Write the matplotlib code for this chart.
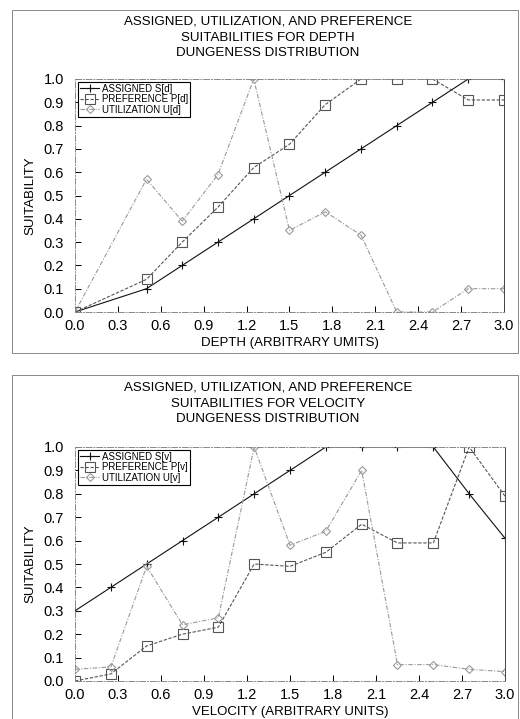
import matplotlib
matplotlib.use("Agg")
import matplotlib.pyplot as plt
from matplotlib.patches import Rectangle

plt.rcParams['font.family'] = ['Liberation Sans', 'DejaVu Sans']

depth_x = [0.0, 0.5, 0.75, 1.0, 1.25, 1.5, 1.75, 2.0, 2.25, 2.5, 2.75, 3.0]
assigned_d = [0.0, 0.1, 0.2, 0.3, 0.4, 0.5, 0.6, 0.7, 0.8, 0.9, 1.0, 1.0]
preference_d = [0.0, 0.14, 0.30, 0.45, 0.62, 0.72, 0.89, 1.0, 1.0, 1.0, 0.91, 0.91]
utilization_d = [0.0, 0.57, 0.39, 0.59, 1.0, 0.35, 0.43, 0.33, 0.0, 0.0, 0.10, 0.10]

vel_x = [0.0, 0.25, 0.5, 0.75, 1.0, 1.25, 1.5, 1.75, 2.0, 2.25, 2.5, 2.75, 3.0]
assigned_v = [0.3, 0.4, 0.5, 0.6, 0.7, 0.8, 0.9, 1.0, 1.0, 1.0, 1.0, 0.8, 0.61]
preference_v = [0.0, 0.03, 0.15, 0.20, 0.23, 0.50, 0.49, 0.55, 0.67, 0.59, 0.59, 1.0, 0.79]
utilization_v = [0.05, 0.06, 0.49, 0.24, 0.27, 1.0, 0.58, 0.64, 0.90, 0.07, 0.07, 0.05, 0.04]

x_ticks = [0.0, 0.3, 0.6, 0.9, 1.2, 1.5, 1.8, 2.1, 2.4, 2.7, 3.0]
y_ticks = [0.0, 0.1, 0.2, 0.3, 0.4, 0.5, 0.6, 0.7, 0.8, 0.9, 1.0]

W, H = 520, 719
fig = plt.figure(figsize=(W / 100, H / 100), dpi=100)


def px_axes(x0, y0, x1, y1):
    return fig.add_axes([x0 / W, (H - y1) / H, (x1 - x0) / W, (y1 - y0) / H])


def frame(x0, y0, x1, y1):
    fig.patches.append(Rectangle((x0 / W, (H - y1) / H), (x1 - x0) / W, (y1 - y0) / H,
                                 transform=fig.transFigure, fill=False,
                                 edgecolor='#888888', linewidth=0.7))


def panel(ax, x, s, p, u, sfx, xlabel):
    ax.plot(x, s, color='#111111', lw=0.8, marker='+', ms=6, mew=0.8,
            label=f'ASSIGNED S[{sfx}]')
    ax.plot(x, p, color='#555555', lw=0.8, ls=(0, (3, 1.5)), marker='s', ms=7,
            mfc='none', mec='#555555', mew=0.8, label=f'PREFERENCE P[{sfx}]')
    ax.plot(x, u, color='#999999', lw=0.8, ls=(0, (4, 1.5, 1, 1.5)), marker='D', ms=4,
            mfc='none', mec='#999999', mew=0.8, label=f'UTILIZATION U[{sfx}]')
    ax.set_xlim(0, 3.0)
    ax.set_ylim(0, 1.0)
    ax.set_xticks(x_ticks)
    ax.set_xticklabels([f'{t:.1f}' for t in x_ticks])
    ax.set_yticks(y_ticks)
    ax.set_yticklabels([f'{t:.1f}' for t in y_ticks])
    ax.tick_params(direction='in', length=4, width=0.7, labelsize=10.5)
    ax.tick_params(axis='y', pad=8)
    ax.tick_params(axis='x', pad=5)
    ax.set_xlabel(xlabel, fontsize=9.5, labelpad=3)
    ax.set_ylabel('SUITABILITY', fontsize=9.5, labelpad=5)
    for side in ['top', 'bottom', 'left']:
        ax.spines[side].set_color('#888888')
        ax.spines[side].set_linestyle((0, (6, 2, 1, 2)))
        ax.spines[side].set_linewidth(0.7)
    ax.spines['right'].set_color('#444444')
    ax.spines['right'].set_linewidth(0.7)
    leg = ax.legend(loc='upper left', fontsize=7, frameon=True, fancybox=False,
                    edgecolor='black', framealpha=1, borderpad=0.2, labelspacing=0.05,
                    handlelength=2.0, handletextpad=0.3, borderaxespad=0.3)
    leg.get_frame().set_linewidth(0.8)


# top panel
frame(12, 10, 518, 353)
ax1 = px_axes(75, 79, 504, 312)
panel(ax1, depth_x, assigned_d, preference_d, utilization_d, 'd',
      'DEPTH (ARBITRARY UMITS)')
fig.text(268 / W, 1 - 16 / H,
         'ASSIGNED, UTILIZATION, AND PREFERENCE\nSUITABILITIES FOR DEPTH\nDUNGENESS DISTRIBUTION',
         ha='center', va='top', fontsize=9.6, linespacing=1.4)

# bottom panel
frame(12, 375, 518, 730)
ax2 = px_axes(75, 447, 505, 681)
panel(ax2, vel_x, assigned_v, preference_v, utilization_v, 'v',
      'VELOCITY (ARBITRARY UNITS)')
fig.text(268 / W, 1 - 382 / H,
         'ASSIGNED, UTILIZATION, AND PREFERENCE\nSUITABILITIES FOR VELOCITY\nDUNGENESS DISTRIBUTION',
         ha='center', va='top', fontsize=9.6, linespacing=1.4)

fig.savefig('out.png', dpi=100)
